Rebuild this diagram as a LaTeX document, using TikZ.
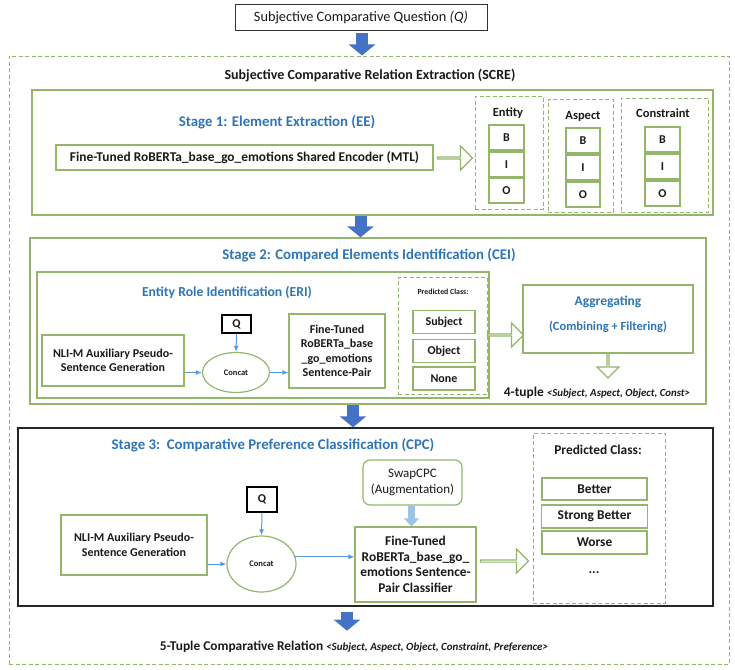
\documentclass[tikz,border=0pt]{standalone}
\usepackage{fontspec}
\setmainfont{Carlito}
\usetikzlibrary{shapes.geometric, shapes.arrows, arrows.meta, positioning, calc}
\definecolor{scgreen}{HTML}{93B66B}
\definecolor{scblue}{HTML}{2E75B6}
\definecolor{scarrow}{HTML}{4472C4}
\definecolor{sclight}{HTML}{9DC3E6}
\definecolor{scline}{HTML}{5B9BD5}
\definecolor{sctext}{HTML}{1A1A1A}
\tikzset{
  frame/.style={rectangle, draw=scgreen, line width=1.2pt, inner sep=0pt},
  dframe/.style={frame, dash pattern=on 4pt off 2.5pt, line width=1pt},
  cell/.style={rectangle, draw=scgreen, line width=1.2pt, fill=white, text=sctext,
              font=\fontsize{12}{14.5}\selectfont\bfseries, align=center, inner sep=1pt},
  big/.style={font=\fontsize{13.4}{15.5}\selectfont\bfseries},
  lab/.style={text=sctext, font=\fontsize{12.5}{14}\selectfont\bfseries},
  title/.style={text=scblue, font=\fontsize{14.8}{17}\selectfont\bfseries},
  concat/.style={ellipse, draw=scgreen, line width=1.2pt, text=sctext,
              font=\fontsize{8.5}{10}\selectfont\bfseries, inner sep=0pt},
  qbox/.style={rectangle, draw=black, line width=1.2pt, text=sctext,
              font=\fontsize{12}{14}\selectfont\bfseries, inner sep=0pt},
  hollow/.style={single arrow, draw=scgreen, line width=1.2pt, fill=white, inner sep=0pt,
              single arrow tip angle=90, single arrow head extend=6pt},
  blk/.style={draw=scarrow, line width=12pt, -{Triangle[width=26pt,length=11pt]}},
  conn/.style={draw=scline, line width=1pt, -{Latex[length=6pt,width=5pt]}},
}
\begin{document}
\begin{tikzpicture}[x=1pt,y=-1pt]
  \useasboundingbox (0,0) rectangle (735,669);
  \node[rectangle, draw=black!80, line width=1pt, minimum width=252pt, minimum height=26pt,
        font=\fontsize{14.3}{16}\selectfont, text=sctext] (question) at (361,18)
        {Subjective Comparative Question \textit{(Q)}};
  \node[dframe, minimum width=720pt, minimum height=608pt] (scre) at (369,360) {};
  \node[lab, font=\fontsize{14}{16}\selectfont\bfseries] (scretitle) at (370,75)
        {Subjective Comparative Relation Extraction (SCRE)};
  % stage 1
  \node[frame, minimum width=681pt, minimum height=125pt] (stage1) at (372.5,152.5) {};
  \node[title] (s1title) at (277,122) {Stage 1: Element Extraction (EE)};
  \node[cell, big, minimum width=377pt, minimum height=25pt] (encoder) at (244.5,157.5)
        {Fine-Tuned RoBERTa\_base\_go\_emotions Shared Encoder (MTL)};
  \node[hollow, minimum height=35pt, minimum width=24pt] (s1arrow) at (454.5,158) {};
  \node[dframe, minimum width=68pt, minimum height=113pt] (entity) at (509,152.5) {};
  \node[lab] (entitylab) at (508,113) {Entity};
  \node[cell, minimum width=35pt, minimum height=25pt] (entB) at (506.5,137.5) {B};
  \node[cell, minimum width=35pt, minimum height=25pt] (entI) at (506.5,164.5) {I};
  \node[cell, minimum width=35pt, minimum height=25pt] (entO) at (506.5,190.5) {O};
  \node[dframe, minimum width=65pt, minimum height=113pt] (aspect) at (580.5,155.5) {};
  \node[lab] (aspectlab) at (583,116) {Aspect};
  \node[cell, minimum width=34pt, minimum height=25pt] (aspB) at (583,140.5) {B};
  \node[cell, minimum width=34pt, minimum height=25pt] (aspI) at (583,167.5) {I};
  \node[cell, minimum width=34pt, minimum height=25pt] (aspO) at (583,194.5) {O};
  \node[dframe, minimum width=87pt, minimum height=114pt] (constr) at (664.5,155) {};
  \node[lab] (constrlab) at (663,113) {Constraint};
  \node[cell, minimum width=35pt, minimum height=25pt] (conB) at (662.5,139.5) {B};
  \node[cell, minimum width=35pt, minimum height=25pt] (conI) at (662.5,166.5) {I};
  \node[cell, minimum width=35pt, minimum height=25pt] (conO) at (662.5,193.5) {O};
  % stage 2
  \node[frame, minimum width=676pt, minimum height=166pt] (stage2) at (368,321) {};
  \node[title] (s2title) at (369,255) {Stage 2: Compared Elements Identification (CEI)};
  \node[frame, minimum width=452pt, minimum height=126pt] (eri) at (263,335) {};
  \node[title, font=\fontsize{13.7}{16}\selectfont\bfseries] (erititle) at (227,292) {Entity Role Identification (ERI)};
  \node[qbox, minimum width=29pt, minimum height=18pt] (q2) at (236.5,324) {Q};
  \node[cell, minimum width=142pt, minimum height=51pt] (nli2) at (113,360.5)
        {NLI-M Auxiliary Pseudo-\\Sentence Generation};
  \node[concat, minimum width=67pt, minimum height=40pt] (concat2) at (236,372.5) {Concat};
  \node[cell, minimum width=96pt, minimum height=74pt] (ft2) at (337,351)
        {Fine-Tuned\\RoBERTa\_base\\\_go\_emotions\\Sentence-Pair};
  \node[dframe, minimum width=89pt, minimum height=117pt] (pc2) at (442.5,335.5) {};
  \node[lab, font=\fontsize{7.8}{9}\selectfont\bfseries] (pc2lab) at (443,292) {Predicted Class:};
  \node[cell, minimum width=62pt, minimum height=23pt] (subj) at (444,322) {Subject};
  \node[cell, minimum width=62pt, minimum height=23pt] (obj) at (444,351) {Object};
  \node[cell, minimum width=62pt, minimum height=23pt] (none) at (444,378.5) {None};
  \node[hollow, minimum height=36pt, minimum width=24pt] (s2arrow) at (505,335) {};
  \node[frame, minimum width=170pt, minimum height=68pt] (agg) at (608,319) {};
  \node[title, font=\fontsize{13.5}{15}\selectfont\bfseries] (aggtitle) at (608,302) {Aggregating};
  \node[title, font=\fontsize{12.5}{14}\selectfont\bfseries] (aggsub) at (608,327) {(Combining + Filtering)};
  \node[hollow, minimum height=23pt, minimum width=22pt, shape border rotate=270] (aggarrow) at (608,366) {};
  \node[lab, big] (tuple4) at (597,393)
        {4-tuple {\fontsize{10.8}{12}\selectfont\itshape <Subject, Aspect, Object, Const>}};
  % stage 3
  \node[rectangle, draw=black!85, line width=1.3pt, minimum width=695pt, minimum height=178pt] (stage3) at (365.5,517) {};
  \node[title] (s3title) at (273,445) {Stage 3:\ \ Comparative Preference Classification (CPC)};
  \node[qbox, minimum width=30pt, minimum height=25pt] (q3) at (262,499.5) {Q};
  \node[cell, minimum width=146pt, minimum height=60pt] (nli3) at (134,545)
        {NLI-M Auxiliary Pseudo-\\Sentence Generation};
  \node[concat, minimum width=69pt, minimum height=56pt] (concat3) at (261.5,564) {Concat};
  \node[cell, rounded corners=7pt, minimum width=99pt, minimum height=45pt,
        font=\fontsize{13}{16}\selectfont] (swap) at (412.5,482.5) {SwapCPC\\(Augmentation)};
  \node[cell, big, minimum width=121pt, minimum height=75pt] (ft3) at (415.5,564.5)
        {Fine-Tuned\\RoBERTa\_base\_go\_\\emotions Sentence-\\Pair Classifier};
  \node[hollow, minimum height=48pt, minimum width=24pt] (s3arrow) at (504,561) {};
  \node[dframe, minimum width=132pt, minimum height=170pt] (pc3) at (599,518) {};
  \node[lab, big] (pc3lab) at (598,450) {Predicted Class:};
  \node[cell, big, minimum width=105pt, minimum height=22pt] (better) at (594.5,489) {Better};
  \node[cell, big, minimum width=106pt, minimum height=23pt] (strong) at (594.5,516.5) {Strong Better};
  \node[cell, big, minimum width=105pt, minimum height=23pt] (worse) at (594.5,542.5) {Worse};
  \node[lab, big] (more) at (594,573) {...};
  \node[lab, big] (tuple5) at (354,647)
        {5-Tuple Comparative Relation {\fontsize{11}{12}\selectfont\itshape <Subject, Aspect, Object, Constraint, Preference>}};
  % arrows
  \draw[blk, shorten <=2pt] ([xshift=1pt]question.south) -- ([xshift=1pt]question.south |- scre.north);
  \draw[blk] ([xshift=-12pt]stage1.south) -- ([xshift=-12pt]stage1.south |- stage2.north);
  \draw[blk] ([xshift=-15pt]stage2.south) -- ([xshift=-15pt]stage2.south |- stage3.north);
  \draw[blk, shorten <=5pt, shorten >=7pt] ([xshift=-18.5pt]stage3.south) -- ([xshift=-18.5pt]stage3.south |- tuple5.north);
  \draw[conn] (q2.south) -- (concat2.north);
  \draw[conn] (nli2.east |- concat2.west) -- (concat2.west);
  \draw[conn] (concat2.east) -- (concat2.east -| ft2.west);
  \draw[conn] (q3.south) -- (concat3.north);
  \draw[conn] (nli3.east |- concat3.west) -- (concat3.west);
  \draw[conn] (concat3.12) -- (concat3.12 -| ft3.west);
  \draw[draw=sclight, line width=7pt, -{Triangle[width=15pt,length=8pt]}] ([xshift=-1pt]swap.south) -- ([xshift=-1pt]swap.south |- ft3.north);
\end{tikzpicture}
\end{document}
